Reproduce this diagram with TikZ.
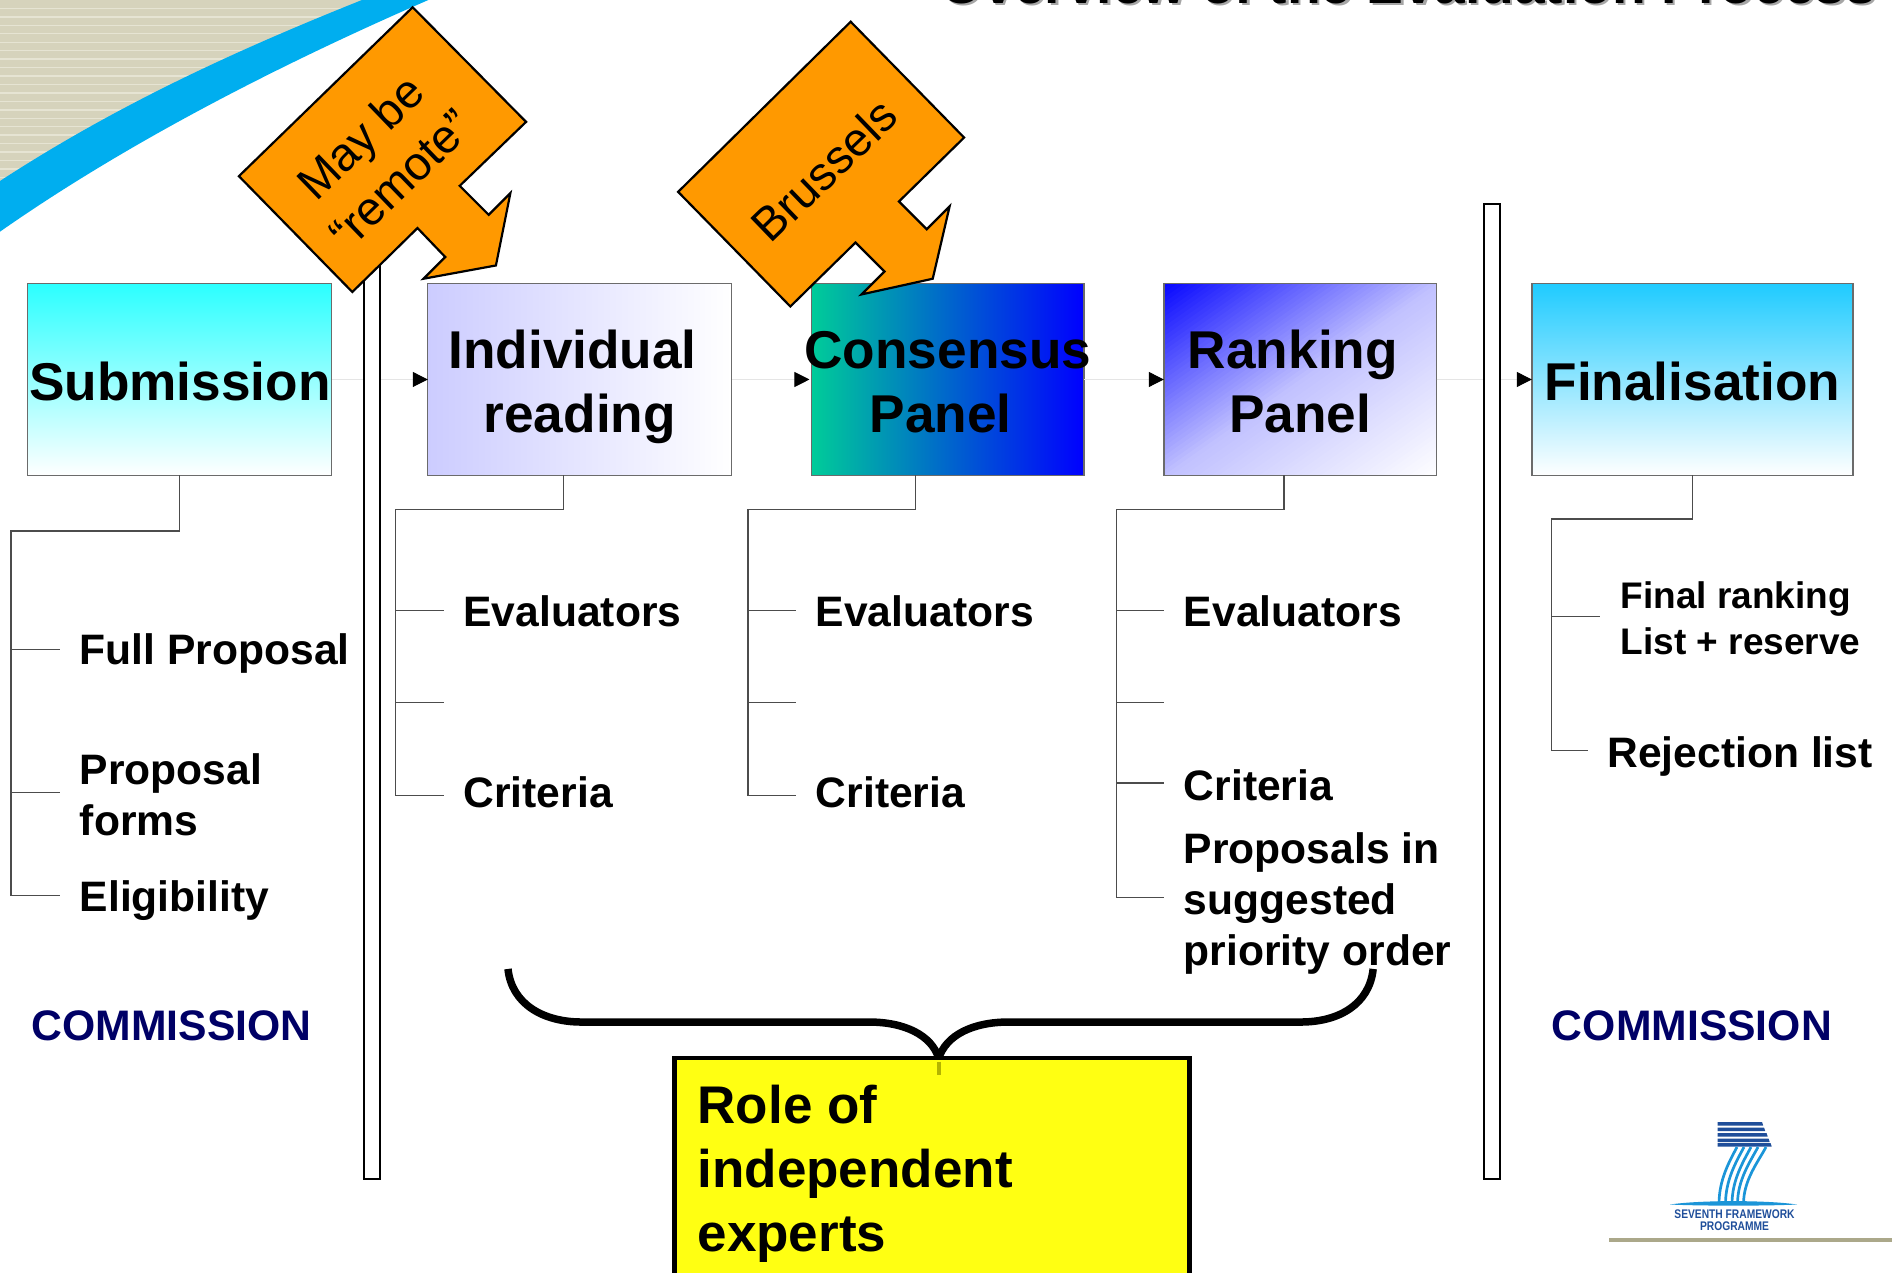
\documentclass[tikz,border=0pt]{standalone}
\usepackage{fontspec}
\setmainfont{Liberation Sans}
\usetikzlibrary{arrows.meta,calc}
\definecolor{calloutorange}{HTML}{FF9900}
\definecolor{swoosh}{HTML}{00AEEF}
\definecolor{beige}{HTML}{D6D3BC}
\definecolor{beigelight}{HTML}{E6E4D3}
\definecolor{navytext}{HTML}{000066}
\definecolor{logodark}{HTML}{1F4E9A}
\definecolor{logolight}{HTML}{1B95D8}
\definecolor{rulebeige}{HTML}{ABA88A}
\definecolor{subtop}{HTML}{2BFFFF}
\definecolor{fintop}{HTML}{1FCBFF}
\definecolor{indleft}{HTML}{CCCCFF}
\definecolor{conleft}{HTML}{00CC99}
\definecolor{conmid}{HTML}{0088D8}
\definecolor{conright}{HTML}{0000FF}
\definecolor{rankA}{HTML}{0808FF}
\definecolor{roleyellow}{HTML}{FFFF12}
\definecolor{rolemark}{HTML}{B4B400}
\tikzset{
  x=1.20663pt,y=-1.20663pt,
  procbox/.style={draw=black!58,line width=1.4pt,inner sep=0pt,outer sep=0pt,rectangle},
  boxlabel/.style={anchor=base,inner sep=0pt,font=\fontsize{53.2}{64}\selectfont\bfseries},
  itemlabel/.style={anchor=base west,inner sep=0pt,align=left,font=\fontsize{42.6}{51}\selectfont\bfseries},
  smalllabel/.style={anchor=base west,inner sep=0pt,align=left,font=\fontsize{37}{46}\selectfont\bfseries},
  commlabel/.style={anchor=base west,inner sep=0pt,text=navytext,font=\fontsize{42.7}{51}\selectfont\bfseries},
  flow/.style={draw=black!10,line width=1pt,-{Triangle[length=15pt,width=15pt,black]}},
  tree/.style={draw=black!70,line width=1.3pt},
  barbox/.style={draw=black,fill=white,line width=2pt,inner sep=0pt,outer sep=0pt,rectangle},
  callout/.style={draw=black,fill=calloutorange,line width=2.2pt,line join=miter},
  callouttext/.style={inner sep=0pt,align=center,font=\fontsize{47}{58}\selectfont},
  brace/.style={draw=black,line width=7.5pt}
}
\begin{document}
\begin{tikzpicture}
\useasboundingbox (0,0) rectangle (1568,1054.2);

% corner decoration
\begin{scope}
  \clip (0,0) rectangle (1568,1054.2);
  \begin{scope}
    \clip (0,0) -- (0,170) -- (320,0) -- cycle;
    \fill[beige] (0,0) rectangle (340,170);
    \foreach \yy in {7,14,...,168} {\draw[beigelight,line width=1.4pt] (0,\yy) -- (340,\yy);}
  \end{scope}
  \fill[swoosh] (0,150) .. controls (100,85) and (200,40) .. (300,0) -- (355,0)
     .. controls (240,50) and (110,115) .. (0,192) -- cycle;

  % cut-off title
  \node[anchor=base east,inner sep=0pt,text=black!35,font=\fontsize{55.2}{60}\selectfont\bfseries] (titleshadow) at (1557,4.5) {Overview of the Evaluation Process};
  \node[anchor=base east,inner sep=0pt,font=\fontsize{55.2}{60}\selectfont\bfseries] (title) at (1555,2.5) {Overview of the Evaluation Process};
\end{scope}

% diagonal gradient of the ranking box
\begin{scope}
  \clip (964.5,235) rectangle (1190.5,394);
  \foreach \i in {0,...,80} {
    \pgfmathsetmacro\uu{\i/80}
    \pgfmathsetmacro\pp{\uu<0.5 ? 100-150*\uu : 50-50*\uu}
    \fill[rankA!\pp!white] ({964.5+2*\uu*226},235) -- (964.5,{235+2*\uu*159}) -- (964.5,700) -- (1700,700) -- (1700,235) -- cycle;
  }
\end{scope}

% process boxes
\node[procbox,minimum width=304pt,minimum height=192pt,top color=subtop,bottom color=white] (sub) at (149,314.5) {};
\node[procbox,minimum width=304pt,minimum height=192pt,left color=indleft,right color=white] (ind) at (480.5,314.5) {};
\node[procbox,minimum width=272.7pt,minimum height=192pt,left color=conleft,middle color=conmid,right color=conright] (con) at (785.5,314.5) {};
\node[procbox,minimum width=272.7pt,minimum height=192pt] (ran) at (1077.5,314.5) {};
\node[procbox,minimum width=321pt,minimum height=192pt,top color=fintop,bottom color=white] (fin) at (1402.5,314.5) {};

% flow connectors
\draw[flow] (sub.east) -- (ind.west);
\draw[flow] (ind.east) -- ([xshift=-2pt]con.west);
\draw[flow] (con.east) -- (ran.west);
\draw[flow] (ran.east) -- (fin.west);

% vertical bars
\node[barbox,minimum width=15.7pt,minimum height=933pt] (barL) at (308.5,590.5) {};
\node[barbox,minimum width=15.7pt,minimum height=975pt] (barR) at (1236.5,573) {};
\draw[line width=2.5pt] (barR.north west) -- (barR.north east);

% tree coordinates
\coordinate (subA) at (9,440);
\coordinate (subB) at (9,742);
\coordinate (s1a) at (9,538);   \coordinate (s1b) at (50,538);
\coordinate (s2a) at (9,657);   \coordinate (s2b) at (50,657);
\coordinate (s3b) at (50,742);
\coordinate (indT) at (467,394);
\coordinate (indA) at (328,422);
\coordinate (i1a) at (328,506); \coordinate (i1b) at (368,506);
\coordinate (i2a) at (328,582); \coordinate (i2b) at (368,582);
\coordinate (i3a) at (328,659); \coordinate (i3b) at (368,659);
\coordinate (conT) at (759,394);
\coordinate (conA) at (620,422);
\coordinate (c1a) at (620,506); \coordinate (c1b) at (660,506);
\coordinate (c2a) at (620,582); \coordinate (c2b) at (660,582);
\coordinate (c3a) at (620,659); \coordinate (c3b) at (660,659);
\coordinate (ranT) at (1064,394);
\coordinate (ranA) at (925,422);
\coordinate (r1a) at (925,506); \coordinate (r1b) at (965,506);
\coordinate (r2a) at (925,582); \coordinate (r2b) at (965,582);
\coordinate (r3a) at (925,649); \coordinate (r3b) at (965,649);
\coordinate (r4a) at (925,744); \coordinate (r4b) at (965,744);
\coordinate (finA) at (1286,430);
\coordinate (f1a) at (1286,511); \coordinate (f1b) at (1326,511);
\coordinate (f2a) at (1286,622); \coordinate (f2b) at (1316,622);

% trees
\draw[tree] (sub.south) |- (subA) -- (subB) -- (s3b);
\draw[tree] (s1a) -- (s1b);
\draw[tree] (s2a) -- (s2b);
\draw[tree] (indT) |- (indA) -- (i3a) -- (i3b);
\draw[tree] (i1a) -- (i1b);
\draw[tree] (i2a) -- (i2b);
\draw[tree] (conT) |- (conA) -- (c3a) -- (c3b);
\draw[tree] (c1a) -- (c1b);
\draw[tree] (c2a) -- (c2b);
\draw[tree] (ranT) |- (ranA) -- (r4a) -- (r4b);
\draw[tree] (r1a) -- (r1b);
\draw[tree] (r2a) -- (r2b);
\draw[tree] (r3a) -- (r3b);
\draw[tree] (fin.south) |- (finA) -- (f2a) -- (f2b);
\draw[tree] (f1a) -- (f1b);

% box labels
\node[boxlabel] (subL) at (149,332) {Submission};
\node[boxlabel] (indL1) at (474.5,305) {Individual};
\node[boxlabel] (indL2) at (480.5,358.5) {reading};
\node[boxlabel] (conL1) at (785.5,305) {Consensus};
\node[boxlabel] (conL2) at (779.5,358.5) {Panel};
\node[boxlabel] (ranL1) at (1071.5,305) {Ranking};
\node[boxlabel] (ranL2) at (1077.5,358.5) {Panel};
\node[boxlabel] (finL) at (1402.5,332) {Finalisation};

% item labels
\node[itemlabel] (a1) at (66,551) {Full Proposal};
\node[itemlabel] (a2) at (66,692) {Proposal\\forms};
\node[itemlabel] (a3) at (66,755.5) {Eligibility};
\node[itemlabel] (b1) at (384,519.5) {Evaluators};
\node[itemlabel] (b2) at (384,669) {Criteria};
\node[itemlabel] (c1) at (676,519.5) {Evaluators};
\node[itemlabel] (c2) at (676,669) {Criteria};
\node[itemlabel] (d1) at (981,519.5) {Evaluators};
\node[itemlabel] (d2) at (981,663) {Criteria};
\node[itemlabel] (d3) at (981,800.5) {Proposals in\\suggested\\priority order};
\node[smalllabel] (e1) at (1343,542) {Final ranking\\List + reserve};
\node[itemlabel] (e2) at (1332,636) {Rejection list};
\node[commlabel] (comL) at (26,862) {COMMISSION};
\node[commlabel] (comR) at (1286,862) {COMMISSION};

% callouts
\path[callout] (342,6) -- (436,101) -- (381,154) -- (405,178) -- (423,160) -- (411,220) -- (351,231) -- (369,213) -- (346,189) -- (292,242) -- (198,146) -- cycle;
\node[callouttext,rotate=44] (mayL) at (315,131) {May be\\“remote”};
\path[callout] (705,18) -- (799,114) -- (745,167) -- (768,190) -- (787,171) -- (773,231) -- (714,244) -- (733,225) -- (709,201) -- (655,254) -- (562,159) -- cycle;
\node[callouttext,rotate=44] (bruL) at (683,141) {Brussels};

% role box and brace
\begin{scope}
  \clip (0,0) rectangle (1568,1054.2);
  \node[draw=black,fill=roleyellow,line width=4.5pt,inner sep=0pt,outer sep=0pt,rectangle,minimum width=515pt,minimum height=300pt,anchor=north west] (role) at (559,877) {};
\end{scope}
\coordinate (braceL) at (421,803);
\coordinate (braceR) at (1138,803);
\coordinate (braceM) at (778,877);
\draw[brace] (braceL) .. controls (424,832) and (450,847) .. (482,847) -- (720,847) .. controls (750,847) and (772,858) .. (braceM);
\draw[brace] (braceR) .. controls (1135,832) and (1110,847) .. (1078,847) -- (836,847) .. controls (806,847) and (784,858) .. (braceM);
\draw[rolemark,line width=4pt] (role.north -| braceM) ++(0,3) -- ++(0,11);
\node[anchor=base west,inner sep=0pt,align=left,font=\fontsize{53}{64}\selectfont\bfseries] (roleL) at (578,1037.5) {Role of\\independent\\experts};

% logo (full-size pixel units)
\begin{scope}[x=1pt,y=-1pt]
  \foreach \yt/\xe in {1122/1762,1127.5/1764,1133/1766.5,1138.5/1768.5,1143/1770.5} {
    \fill[logodark] (1717.5,\yt) -- (\xe,\yt) -- (\xe+1.2,\yt+3.6) -- (1717.5,\yt+3.6) -- cycle;
  }
  \foreach \xb/\xt in {1719/1737,1725.5/1744,1732/1751,1737.5/1758,1743.5/1766} {
    \draw[logolight,line width=2.7pt] (\xb,1204) .. controls (\xb,1180) and (\xt-8,1162) .. (\xt,1147);
  }
  \fill[logolight] (1670,1204.5) .. controls (1700,1200) and (1767,1200) .. (1797,1204.5) .. controls (1767,1206) and (1700,1206) .. (1670,1204.5) -- cycle;
  \node[inner sep=0pt,text=logodark,align=center,font=\fontsize{12.5}{12}\selectfont\bfseries,anchor=center] (logoL) at (1734.5,1220) {\addfontfeature{FakeStretch=0.82}SEVENTH FRAMEWORK\\\addfontfeature{FakeStretch=0.82}PROGRAMME};
  \coordinate (ruleA) at (1609,1240);
  \coordinate (ruleB) at (1892,1240);
  \draw[rulebeige,line width=4pt] (ruleA) -- (ruleB);
\end{scope}
\end{tikzpicture}
\end{document}
